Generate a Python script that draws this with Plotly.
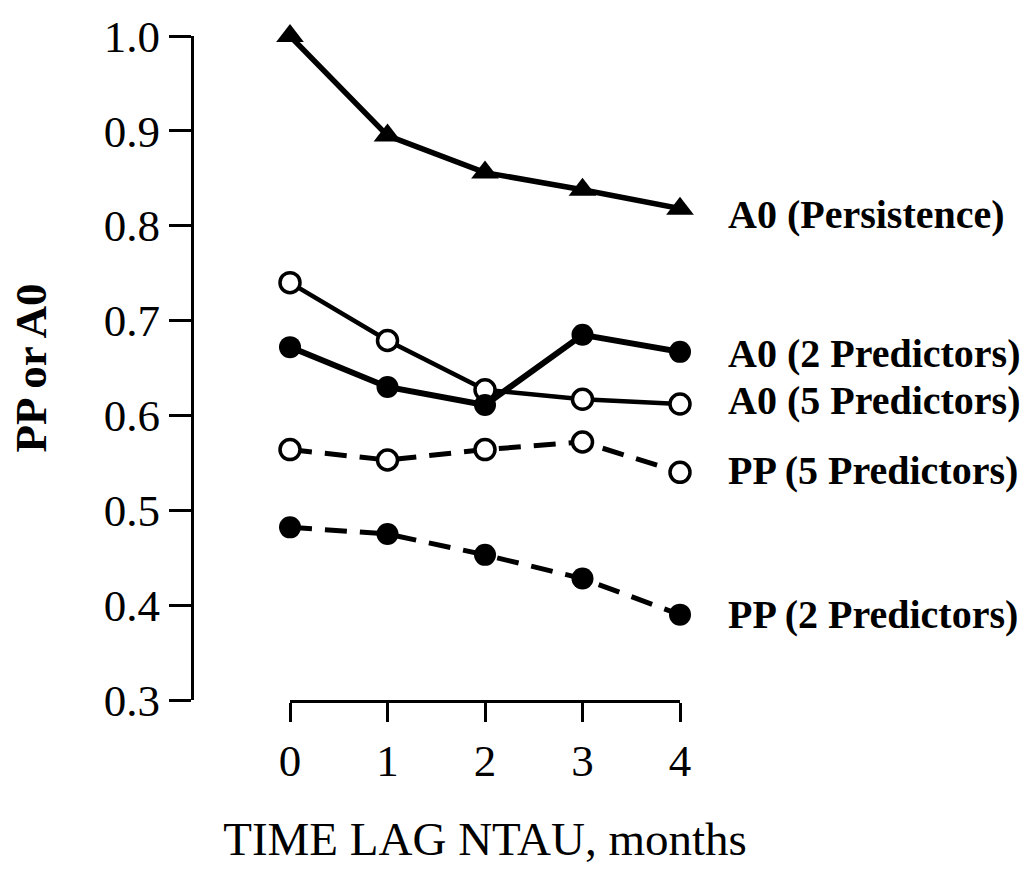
import plotly.graph_objects as go

# ---- data ----
lags = [0, 1, 2, 3, 4]
a0_persistence = [1.000, 0.895, 0.856, 0.838, 0.818]
a0_2pred = [0.672, 0.630, 0.611, 0.685, 0.667]
a0_5pred = [0.740, 0.679, 0.627, 0.617, 0.612]
pp_5pred = [0.564, 0.553, 0.564, 0.572, 0.540]
pp_2pred = [0.482, 0.475, 0.453, 0.428, 0.390]

series_names = ["A0 (Persistence)", "A0 (5 Predictors)", "A0 (2 Predictors)",
                "PP (5 Predictors)", "PP (2 Predictors)"]
y_ticks = [0.3, 0.4, 0.5, 0.6, 0.7, 0.8, 0.9, 1.0]
y_tick_labels = ["0.3", "0.4", "0.5", "0.6", "0.7", "0.8", "0.9", "1.0"]
x_tick_labels = ["0", "1", "2", "3", "4"]

SERIF = "Liberation Serif, Times New Roman, serif"

fig = go.Figure()

styles = [
    (a0_persistence, dict(color="black", width=5.5), dict(symbol="triangle-up", size=24, color="black")),
    (a0_5pred, dict(color="black", width=4.5), dict(symbol="circle", size=20, color="white",
                                                     line=dict(color="black", width=3.5))),
    (a0_2pred, dict(color="black", width=6), dict(symbol="circle", size=22, color="black")),
    (pp_5pred, dict(color="black", width=5, dash="22px,13px"),
     dict(symbol="circle", size=20, color="white", line=dict(color="black", width=3.5))),
    (pp_2pred, dict(color="black", width=5, dash="22px,13px"),
     dict(symbol="circle", size=22, color="black")),
]

for name, (vals, ln, mk) in zip(series_names, styles):
    fig.add_trace(go.Scatter(x=lags, y=vals, mode="lines+markers", name=name,
                             line=ln, marker=mk, cliponaxis=False, showlegend=False))

label_yshift = [-6, 4, -2, 2, 0]
for name, (vals, _, _), ys in zip(series_names, styles, label_yshift):
    fig.add_annotation(x=lags[-1], y=vals[-1], text="<b>" + name + "</b>",
                       xanchor="left", yanchor="middle", xshift=46, yshift=ys,
                       showarrow=False, font=dict(family=SERIF, size=40, color="black"))

fig.update_layout(
    width=1034, height=869,
    margin=dict(l=192, r=354, t=29, b=168),
    paper_bgcolor="white", plot_bgcolor="white",
    font=dict(family=SERIF, color="black"),
    xaxis=dict(
        domain=[98 / 488, 1], range=[0, 4],
        tickvals=lags, ticktext=x_tick_labels,
        showline=True, linecolor="black", linewidth=3,
        ticks="outside", ticklen=19, tickwidth=3, tickcolor="black",
        showgrid=False, zeroline=False,
        tickfont=dict(family=SERIF, size=45, color="black"),
        title=dict(text="TIME LAG NTAU, months", standoff=38,
                   font=dict(family=SERIF, size=47, color="black")),
    ),
    yaxis=dict(
        anchor="free", position=0, range=[0.3, 1.0],
        tickvals=y_ticks, ticktext=y_tick_labels,
        showline=True, linecolor="black", linewidth=3,
        ticks="outside", ticklen=22, tickwidth=3, tickcolor="black",
        showgrid=False, zeroline=False,
        tickfont=dict(family=SERIF, size=45, color="black"),
        title=dict(text="<b>PP or A0</b>", standoff=42,
                   font=dict(family=SERIF, size=45, color="black")),
    ),
)

fig.write_html("out.html")
